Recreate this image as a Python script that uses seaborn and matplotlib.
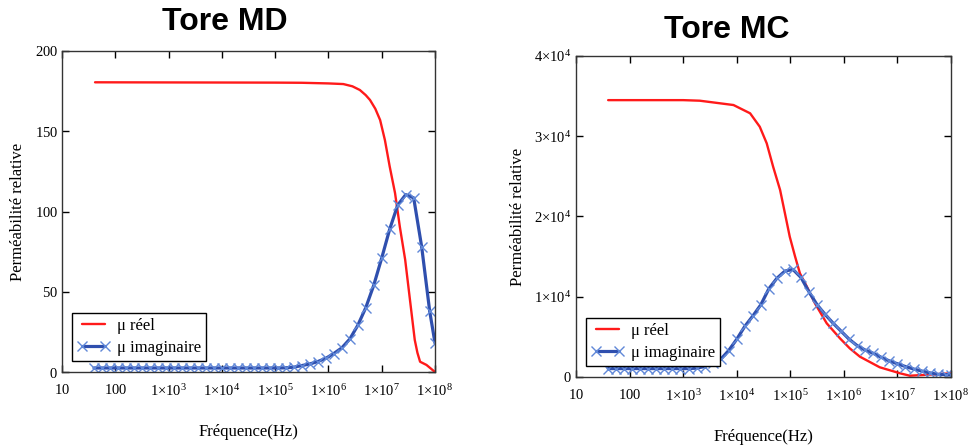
import numpy as np
import pandas as pd
import seaborn as sns
import matplotlib
matplotlib.use("Agg")
import matplotlib.pyplot as plt
from matplotlib.ticker import FuncFormatter, FixedLocator

# ---------------- data ----------------
# Tore MD
md_real_logf = [1.62, 5.0, 5.5, 6.0, 6.28, 6.45, 6.59, 6.7, 6.78, 6.88, 6.97, 7.06,
                7.15, 7.25, 7.34, 7.44, 7.53, 7.62, 7.67, 7.72, 7.84, 8.0]
md_real = [180.5, 180.3, 180.2, 179.8, 179.4, 178, 175.7, 172.5, 169.5, 164, 157,
           144.5, 128, 111.5, 90.5, 70, 45, 20, 12, 6.4, 4.4, 0]

md_imag_logf = [1.6, 1.75, 1.9, 2.05, 2.2, 2.35, 2.5, 2.65, 2.8, 2.95, 3.1, 3.25,
                3.4, 3.55, 3.7, 3.85, 4.0, 4.15, 4.3, 4.45, 4.6, 4.75, 4.9, 5.05,
                5.2, 5.35, 5.5, 5.65, 5.8, 5.95, 6.1, 6.25, 6.4, 6.55, 6.7, 6.85,
                7.0, 7.15, 7.3, 7.45, 7.6, 7.75, 7.9, 8.0]
md_imag = [2.5, 2.5, 2.5, 2.5, 2.5, 2.5, 2.5, 2.5, 2.5, 2.5, 2.5, 2.5,
           2.5, 2.5, 2.5, 2.5, 2.5, 2.5, 2.5, 2.5, 2.5, 2.5, 2.5, 2.5,
           2.6, 3, 4, 5, 6.5, 8.5, 11.5, 15, 20.5, 29, 40, 54,
           71, 89, 104, 110.5, 108.5, 78, 38, 18]

# Tore MC
mc_real_logf = [1.6, 3.0, 3.31, 3.94, 4.25, 4.43, 4.56, 4.68, 4.81, 4.9, 4.99, 5.09,
                5.18, 5.31, 5.46, 5.68, 5.93, 6.11, 6.3, 6.67, 7.05, 7.23, 7.48, 8.0]
mc_real = [34500, 34500, 34430, 33890, 32860, 31190, 29120, 26200, 23300, 20400,
           17480, 15000, 12920, 11250, 9180, 6690, 4800, 3570, 2530, 1210, 460,
           160, 250, 460]

mc_imag_logf = [1.6, 1.75, 1.9, 2.05, 2.2, 2.35, 2.5, 2.65, 2.8, 2.95, 3.1, 3.25,
                3.4, 3.55, 3.7, 3.85, 4.0, 4.15, 4.3, 4.45, 4.6, 4.75, 4.9, 5.05,
                5.2, 5.35, 5.5, 5.65, 5.8, 5.95, 6.1, 6.25, 6.4, 6.55, 6.7, 6.85,
                7.0, 7.15, 7.3, 7.45, 7.6, 7.75, 7.9, 8.0]
mc_imag = [1050, 1050, 1050, 1050, 1050, 1050, 1050, 1050, 1050, 1050, 1050, 1100,
           1300, 1700, 2200, 3300, 4700, 6300, 7600, 9000, 11000, 12300, 13200, 13400,
           12400, 10600, 9000, 7800, 6700, 5700, 4700, 3900, 3350, 2950, 2450, 2000,
           1650, 1300, 1000, 750, 520, 330, 300, 300]

titles = ["Tore MD", "Tore MC"]
legend_labels = ["μ réel", "μ imaginaire"]
xlabel = "Fréquence(Hz)"
ylabel = "Perméabilité relative"
x_ticks = [1e1, 1e2, 1e3, 1e4, 1e5, 1e6, 1e7, 1e8]
md_yticks = [0, 50, 100, 150, 200]
mc_yticks = [0, 10000, 20000, 30000, 40000]

# ---------------- style ----------------
sns.set_style("ticks")
plt.rcParams["font.family"] = ["Liberation Serif", "DejaVu Sans"]
plt.rcParams["mathtext.fontset"] = "custom"
plt.rcParams["mathtext.rm"] = "Liberation Serif"
plt.rcParams["mathtext.it"] = "Liberation Serif:italic"
plt.rcParams["mathtext.bf"] = "Liberation Serif:bold"
plt.rcParams["mathtext.default"] = "rm"
for k in ["text.color", "axes.labelcolor", "xtick.color", "ytick.color"]:
    plt.rcParams[k] = "black"

RED = "#ff1a1a"
BLUE = "#2f4fae"
MBLUE = "#6088d8"

fig = plt.figure(figsize=(9.69, 4.45), dpi=100)
ax1 = fig.add_axes([62 / 969, 1 - 372 / 445, 373 / 969, 321 / 445])
ax2 = fig.add_axes([576 / 969, 1 - 377 / 445, 375 / 969, 321 / 445])


def xfmt(v, pos):
    e = int(round(np.log10(v)))
    if e <= 2:
        return r"$%d$" % int(round(v))
    return r"$1{\times}10^{%d}$" % e


def yfmt_md(v, pos):
    return r"$%d$" % int(round(v))


def yfmt_mc(v, pos):
    if v == 0:
        return r"$0$"
    m = int(round(v / 1e4))
    return r"$%d{\times}10^{4}$" % m


def draw(ax, rl, rv, il, iv, yticks, ymax, yformatter, title, tx, ty, xlp):
    df_r = pd.DataFrame({"f": 10 ** np.array(rl), "v": rv})
    df_i = pd.DataFrame({"f": 10 ** np.array(il), "v": iv})
    sns.lineplot(data=df_r, x="f", y="v", ax=ax, color=RED, linewidth=1.7,
                 label=legend_labels[0], estimator=None, sort=True)
    sns.lineplot(data=df_i, x="f", y="v", ax=ax, color=BLUE, linewidth=2.3,
                 marker="x", markersize=7.5, markeredgecolor=MBLUE,
                 markeredgewidth=1.0, label=legend_labels[1], estimator=None,
                 sort=True)
    ax.set_xscale("log")
    ax.set_xlim(10, 1e8)
    ax.set_ylim(0, ymax)
    ax.xaxis.set_major_locator(FixedLocator(x_ticks))
    ax.xaxis.set_minor_locator(FixedLocator([]))
    ax.xaxis.set_major_formatter(FuncFormatter(xfmt))
    ax.yaxis.set_major_locator(FixedLocator(yticks))
    ax.yaxis.set_major_formatter(FuncFormatter(yformatter))
    ax.tick_params(axis="both", which="major", direction="in", length=5,
                   width=1, top=True, right=True, labelsize=10.5,
                   colors="black")
    ax.tick_params(axis="x", pad=8)
    ax.tick_params(axis="y", pad=3)
    for s in ax.spines.values():
        s.set_visible(True)
        s.set_color("#333333")
        s.set_linewidth(1.0)
    ax.set_xlabel(xlabel, fontsize=12, labelpad=xlp)
    ax.set_ylabel(ylabel, fontsize=12, labelpad=6)
    leg = ax.legend(loc="lower left", bbox_to_anchor=(0.027, 0.034),
                    borderaxespad=0, fancybox=False, framealpha=1,
                    edgecolor="black", fontsize=12, handlelength=2.0,
                    handletextpad=0.4, labelspacing=0.35, numpoints=2,
                    borderpad=0.3)
    leg.get_frame().set_linewidth(1.0)
    fig.text(tx, ty, title, ha="center", va="center", fontsize=23,
             fontweight="bold", family="Liberation Sans", color="black")


draw(ax1, md_real_logf, md_real, md_imag_logf, md_imag, md_yticks, 200, yfmt_md,
     titles[0], 225 / 969, 1 - 22 / 445, 18)
draw(ax2, mc_real_logf, mc_real, mc_imag_logf, mc_imag, mc_yticks, 40000,
     yfmt_mc, titles[1], 727 / 969, 1 - 30 / 445, 18)

fig.savefig("out.png", dpi=100)
